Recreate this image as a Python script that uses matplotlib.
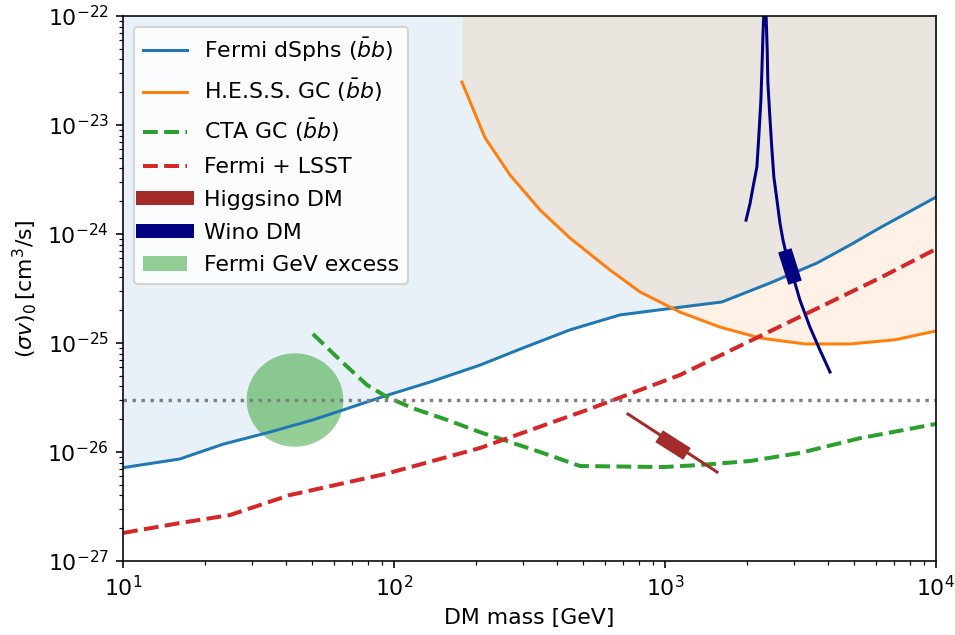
import numpy as np
import matplotlib
matplotlib.use('Agg')
import matplotlib.pyplot as plt

# Fermi dSphs (bb)
fermi_m = [10, 16.2, 23.4, 34.0, 50.2, 63.2, 92.7, 136, 208, 299, 446, 682, 1071, 1622, 2440, 3640, 4820, 6210, 10000]
fermi_sv = [7.18e-27, 8.63e-27, 1.18e-26, 1.50e-26, 1.97e-26, 2.38e-26, 3.27e-26, 4.39e-26, 6.28e-26, 9.0e-26,
            1.32e-25, 1.81e-25, 2.09e-25, 2.38e-25, 3.55e-25, 5.42e-25, 7.93e-25, 1.14e-24, 2.18e-24]

# H.E.S.S. GC (bb)
hess_m = [178, 217, 268, 346, 446, 627, 809, 1136, 1595, 2245, 3290, 4820, 7060, 10000]
hess_sv = [2.48e-23, 7.6e-24, 3.48e-24, 1.66e-24, 9.19e-25, 4.67e-25, 2.94e-25, 1.92e-25, 1.40e-25, 1.11e-25,
           9.8e-26, 9.8e-26, 1.07e-25, 1.29e-25]

# CTA GC (bb)
cta_m = [50.2, 63.2, 79.5, 94.2, 117, 157, 208, 346, 486, 985, 1347, 2060, 3150, 5250, 10000]
cta_sv = [1.21e-25, 6.98e-26, 4.12e-26, 3.2e-26, 2.53e-26, 1.97e-26, 1.52e-26, 1.0e-26, 7.44e-27, 7.28e-27,
          7.6e-27, 8.27e-27, 9.8e-27, 1.34e-26, 1.81e-26]

# Fermi + LSST
lsst_m = [10, 16.2, 24.8, 41.3, 92.7, 208, 515, 1136, 6210, 10000]
lsst_sv = [1.81e-27, 2.23e-27, 2.64e-27, 4.03e-27, 6.28e-27, 1.09e-26, 2.43e-26, 5.09e-26, 3.95e-25, 7.28e-25]

# Higgsino
higgsino_m = [730, 1556]
higgsino_sv = [2.23e-26, 6.56e-27]
higgsino_band_m = [1000, 1146]
higgsino_band_sv = [1.29e-26, 1.04e-26]

# Wino
wino_m = [1991, 2061, 2113, 2183, 2223, 2259, 2280, 2300, 2340, 2383, 2397, 2438, 2481, 2522, 2589, 2656,
          2725, 2818, 2966, 3146, 3426, 3730, 4063]
wino_sv = [1.34e-24, 1.92e-24, 2.70e-24, 4.12e-24, 8.45e-24, 1.70e-23, 3.40e-23, 6.98e-23, 2e-22, 4.88e-23,
           2.43e-23, 1.18e-23, 5.9e-24, 3.33e-24, 2.05e-24, 1.26e-24, 8.81e-25, 6.15e-25, 4.12e-25, 2.48e-25,
           1.40e-25, 8.63e-26, 5.42e-26]
wino_band_m = [2818, 2966]
wino_band_sv = [6.15e-25, 4.12e-25]

# Fermi GeV excess (low, centre, high)
gce_m = [28.6, 43.1, 65.0]
gce_sv = [1.12e-26, 3.0e-26, 8.05e-26]

thermal_sv = 3e-26

plt.rcParams['font.size'] = 11

fig = plt.figure(figsize=(955 / 144, 635 / 144), dpi=144)
ax = fig.add_axes([0.1288, 0.1165, 0.8513, 0.8583])

ax.fill_between(fermi_m, fermi_sv, 1e-22, color='tab:blue', alpha=0.1, lw=0)
ax.fill_between(hess_m, hess_sv, 1e-22, color='tab:orange', alpha=0.1, lw=0)

ax.plot(fermi_m, fermi_sv, color='tab:blue', lw=1.5, label=r'Fermi dSphs ($\bar{b}b$)')
ax.plot(hess_m, hess_sv, color='tab:orange', lw=1.5, label=r'H.E.S.S. GC ($\bar{b}b$)')
ax.plot(cta_m, cta_sv, color='tab:green', lw=2, ls='--', label=r'CTA GC ($\bar{b}b$)')
ax.plot(lsst_m, lsst_sv, color='tab:red', lw=2, ls='--', label='Fermi + LSST')

ax.axhline(thermal_sv, color='gray', ls=':', lw=1.7)

ax.plot(higgsino_m, higgsino_sv, color='brown', lw=1.5)
ax.plot(higgsino_band_m, higgsino_band_sv, color='brown', lw=7, label='Higgsino DM')
ax.plot(wino_m, wino_sv, color='navy', lw=1.5)
ax.plot(wino_band_m, wino_band_sv, color='navy', lw=7, label='Wino DM')

# ellipse drawn in log space
t = np.linspace(0, 2 * np.pi, 200)
lx = np.log10(gce_m)
ly = np.log10(gce_sv)
ex = 10 ** (lx[1] + 0.5 * (lx[2] - lx[0]) * np.cos(t))
ey = 10 ** (ly[1] + 0.5 * (ly[2] - ly[0]) * np.sin(t))
ax.fill(ex, ey, color='tab:green', alpha=0.5, lw=0, label='Fermi GeV excess')

ax.set_xscale('log')
ax.set_yscale('log')
ax.set_xlim(10, 1e4)
ax.set_ylim(1e-27, 1e-22)
ax.set_xlabel('DM mass [GeV]')
ax.set_ylabel(r'$(\sigma v)_0\,[\mathrm{cm}^3/\mathrm{s}]$')

ax.legend(loc='upper left', labelspacing=0.58)

fig.savefig('out.png', dpi=144)
